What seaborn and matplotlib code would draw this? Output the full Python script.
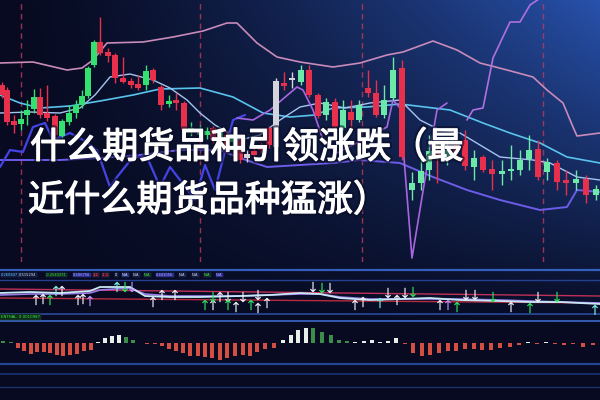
import numpy as np
import pandas as pd
import matplotlib
matplotlib.use('Agg')
import matplotlib.pyplot as plt
import matplotlib.patheffects as pe
import seaborn as sns

# 1. style / font
sns.set_style('dark')
plt.rcParams['font.family'] = ['Noto Sans CJK SC', 'DejaVu Sans']
plt.rcParams['axes.unicode_minus'] = False

# 2. data
title_lines = ['什么期货品种引领涨跌（最', '近什么期货品种猛涨）']

# candles (bar position, open, high, low, close)
candle_x = [2, 7, 14, 21, 27, 34, 40, 47, 55, 62, 69, 76, 82, 88, 94, 100, 108, 115, 123, 131,
            138, 146, 153, 161, 169, 176, 184, 191, 200, 207, 213, 220, 227, 233, 240, 247, 254, 261, 269, 276,
            284, 292, 301, 309, 318, 326, 335, 343, 351, 359, 368, 376, 384, 393, 402, 412, 421, 429, 437, 447,
            456, 465, 474, 483, 492, 502, 511, 520, 529, 538, 547, 557, 566, 576, 586, 596]
candle_open = [175, 170, 139, 136, 145, 151, 163, 147, 144, 124, 138, 147, 155, 164, 195, 218, 208, 205, 182, 179,
               176, 175, 190, 173, 156, 160, 157, 128, 125, 125, 132, 123, 125, 118, 120, 102, 109, 114, 132, 113,
               177, 180, 178, 190, 165, 145, 158, 132, 148, 140, 172, 167, 145, 162, 192, 70, 77, 90, 109, 100,
               115, 120, 93, 103, 91, 86, 89, 90, 101, 111, 88, 97, 80, 77, 81, 65]
candle_high = [178, 173, 145, 150, 160, 171, 172, 175, 146, 141, 155, 160, 170, 194, 220, 243, 212, 207, 203, 182,
               185, 195, 192, 175, 165, 167, 159, 138, 135, 133, 134, 132, 130, 127, 123, 110, 114, 118, 134, 182,
               188, 188, 195, 195, 167, 162, 162, 160, 160, 160, 190, 180, 175, 203, 200, 88, 105, 125, 120, 120,
               125, 130, 110, 105, 100, 100, 115, 110, 125, 120, 102, 100, 90, 90, 85, 75]
candle_low = [162, 135, 127, 130, 135, 147, 142, 139, 122, 122, 135, 142, 152, 162, 193, 205, 198, 177, 177, 172,
              170, 170, 177, 150, 153, 150, 125, 124, 122, 121, 117, 119, 107, 114, 97, 98, 102, 107, 112, 111,
              170, 172, 175, 163, 142, 140, 130, 130, 132, 138, 163, 143, 142, 160, 100, 60, 70, 80, 77, 95,
              100, 90, 80, 88, 70, 75, 80, 85, 90, 80, 80, 70, 65, 70, 57, 60]
candle_close = [165, 138, 135, 141, 150, 163, 145, 142, 125, 139, 147, 155, 164, 192, 218, 207, 204, 182, 178, 175,
                172, 189, 180, 155, 159, 157, 130, 132, 130, 129, 120, 128, 110, 122, 100, 106, 105, 110, 115, 179,
                174, 182, 190, 165, 144, 158, 133, 150, 140, 155, 167, 145, 160, 190, 103, 77, 89, 109, 103, 110,
                108, 94, 102, 90, 86, 89, 91, 100, 110, 83, 98, 78, 77, 81, 65, 71]
white_candles = [247, 276, 292]

# moving average / band lines (x, price)
upper_x = [0, 33, 67, 82, 93, 107, 143, 173, 203, 227, 237, 257, 277, 300, 333, 360, 387, 403, 433, 457,
           480, 507, 533, 547, 563, 573, 577, 600]
upper_y = [197, 198, 190, 192, 200, 217, 218, 223, 229, 237, 237, 217, 203, 198, 193, 197, 205, 208, 219, 210,
           197, 190, 183, 170, 157, 133, 124, 127]
mid_x = [0, 20, 40, 70, 100, 133, 160, 200, 233, 263, 290, 315, 333, 367, 400, 450, 483, 510, 540, 567, 600]
mid_y = [165, 157, 152, 154, 159, 165, 171, 172, 163, 147, 143, 145, 152, 153, 156, 150, 137, 127, 117, 103, 97]
fast_x = [0, 30, 60, 80, 95, 110, 130, 153, 170, 187, 200, 215, 240, 260, 280, 300, 320, 345, 370, 400,
          420, 440, 460, 480, 500, 533, 550, 577, 600]
fast_y = [147, 148, 147, 152, 165, 183, 186, 180, 172, 160, 147, 135, 120, 125, 140, 153, 157, 152, 157, 160,
          140, 130, 127, 115, 103, 100, 97, 83, 80]
lower_x = [0, 30, 60, 100, 140, 180, 220, 240, 267, 300, 333, 360, 400, 433, 467, 500, 540, 567, 577, 600]
lower_y = [100, 100, 100, 102, 105, 110, 110, 102, 93, 95, 97, 100, 97, 83, 70, 60, 50, 53, 70, 68]
zig_x = [0, 10, 23, 33, 45, 53, 70, 83, 97, 110, 117, 133, 147, 160, 170, 180, 195, 205, 215, 233, 245]
zig_y = [93, 110, 108, 133, 137, 120, 127, 120, 110, 73, 83, 103, 103, 73, 93, 80, 60, 95, 70, 140, 145]
spike_x = [237, 253, 270, 297, 303, 313, 323, 337, 357, 387, 393, 400, 412, 427, 437, 447]
spike_y = [142, 140, 150, 173, 170, 150, 120, 107, 117, 133, 160, 152, 2, 93, 150, 157]
spike2_x = [467, 473, 483, 493, 510, 520, 530, 545]
spike2_y = [140, 150, 152, 202, 238, 238, 255, 265]
session_breaks = [21, 200, 362, 543]

# indicator panel
ind_x = [0, 30, 60, 90, 100, 130, 145, 170, 200, 240, 270, 300, 320, 340, 370, 400, 430, 460, 500, 530, 560, 600]
ind_fast = [22, 23, 22, 24, 28, 28, 19, 18, 18, 19, 20, 22, 21, 17, 15, 16, 17, 15, 14, 13, 13, 11]
ind_slow = [20, 21, 21, 22, 25, 27, 21, 19, 19, 19, 20, 21, 21, 18, 16, 16, 16, 16, 15, 14, 13, 12]
ind_band_x = [0, 600]
ind_band_hi = [26, 19]
ind_band_lo = [17, 12]
arrow_x = [36, 43, 50, 56, 62, 78, 83, 90, 117, 125, 132, 153, 162, 175, 205, 213, 213, 220, 228, 228,
           236, 243, 251, 258, 258, 267, 313, 322, 330, 355, 363, 380, 388, 397, 405, 413, 440, 448, 457, 466,
           475, 493, 511, 530, 538, 557, 595]
arrow_y = [15, 16, 15, 24, 24, 15, 16, 14, 28, 28, 28, 13, 20, 20, 10, 10, 18, 18, 18, 10,
           8, 18, 10, 7, 20, 12, 28, 27, 27, 10, 13, 12, 22, 15, 22, 23, 10, 10, 8, 20,
           20, 18, 8, 7, 18, 18, 5]
arrow_dir = ['up', 'up', 'up', 'up', 'up', 'up', 'up', 'up', 'up', 'dn', 'dn', 'up', 'up', 'up', 'up', 'up', 'dn', 'up', 'dn', 'up',
             'up', 'dn', 'up', 'up', 'dn', 'up', 'dn', 'dn', 'dn', 'up', 'up', 'up', 'dn', 'up', 'dn', 'dn', 'up', 'up', 'up', 'dn',
             'dn', 'dn', 'up', 'up', 'dn', 'dn', 'up']
arrow_col = ['w', 'w', 'g', 'c', 'w', 'w', 'w', 'v', 'c', 'g', 'v', 'w', 'w', 'w', 'g', 'w', 'g', 'w', 'w', 'g',
             'w', 'w', 'g', 'w', 'w', 'w', 'w', 'g', 'w', 'w', 'w', 'c', 'w', 'w', 'w', 'g', 'w', 'v', 'g', 'w',
             'w', 'g', 'w', 'g', 'w', 'g', 'c']
header_labels = ['0.260847', '0.515294', '-0.2540291', '0.506756', '1.2', '-1.2', '0', 'N/A', 'N/A', 'N/A',
                 '0.441056', 'N/A', 'N/A', 'N/A', 'N/A']
header_pos = [1, 19, 46, 73, 93, 102, 115, 122, 133, 144, 156, 179, 192, 204, 216]
header_fg = ['#70c8ff', '#e0e0e0', '#40e040', '#b0b0ff', '#ff5a5a', '#ff5a5a', '#ffffff', '#e0e0ff', '#e0e0e0',
             '#50e050', '#b0b0ff', '#e0e0e0', '#e0e0e0', '#50e050', '#b8a8ff']
header_bg = ['#0c1638', '#0c1638', '#0c2a18', '#2a2a90', '#4a1020', '#4a1020', '#0c1638', '#1c2c70', '#0c1638',
             '#0c2a18', '#2a2a90', '#0c1638', '#0c1638', '#0c2a18', '#2a2a90']

# histogram panel
hist_x = [3, 11, 18, 24, 31, 37, 44, 50, 57, 63, 70, 77, 84, 91, 98, 105, 112, 119, 126, 133,
          147, 155, 162, 169, 176, 183, 190, 198, 205, 212, 220, 227, 235, 243, 250, 257, 265, 274, 283, 291,
          298, 306, 313, 322, 331, 339, 347, 355, 364, 372, 380, 388, 396, 405, 413, 422, 430, 439, 448, 456,
          465, 474, 482, 491, 500, 510, 519, 528, 537, 546, 555, 564, 573, 583, 593]
hist_val = [2, 1.5, -5, -8, -11, -9, -9, -10, -12, -13, -12, -11, -8, -7, 1, 5, 7, 8, 6, 3,
            -1, -1, -3, -6, -8, -10, -13, -13, -14, -15, -17, -15, -13, -12, -13, -9, -6, -5, 3, 8,
            13, 15, 15, 11, 8, 3, 2, 1, 2, 3, 0.8, 2, 5, -1, -10, -13, -12, -10, -8, -8,
            -6, -6, -7, -7, -5, -4, -2, 1, -1, 1, -1, -2, -1, -4, -2]
hist_kind = list('gg' + 'r' * 12 + 'wwww' + 'gg' + 'r' * 18 + 'wwww' + 'ggggg' + 'wwwwww' + 'r' * 14 + 'wrw' + 'r' * 5)

# 3. figure + background
fig = plt.figure(figsize=(6, 4), dpi=100)
bg = fig.add_axes([0, 0, 1, 1])
yy, xx = np.mgrid[0:400, 0:600]
w = (xx / 600) ** 1.4 * np.clip(1 - yy / 330, 0, 1)
dark = np.array([7, 10, 32]) / 255
bright = np.array([40, 82, 172]) / 255
bg.imshow(dark + w[..., None] * (bright - dark), aspect='auto', extent=[0, 1, 0, 1])
bg.set_axis_off()

ax = fig.add_axes([0, 1 - 262 / 400, 1, 262 / 400])
ax_ind = fig.add_axes([0, 1 - 315 / 400, 1, 53 / 400])
ax_h = fig.add_axes([0, 0, 1, 85 / 400])
for a in (ax, ax_ind, ax_h):
    a.set_facecolor('none')

# 4. main panel
for b in session_breaks:
    ax.axvline(b, color='#c03a5c', lw=1, ls=(0, (4, 3)), alpha=0.8)

sns.lineplot(x=upper_x, y=upper_y, ax=ax, color='#c88bba', lw=1.2, estimator=None, sort=False)
sns.lineplot(x=mid_x, y=mid_y, ax=ax, color='#58c4ee', lw=1.2, estimator=None, sort=False)
sns.lineplot(x=fast_x, y=fast_y, ax=ax, color='#a4c4f0', lw=1.0, estimator=None, sort=False)
sns.lineplot(x=lower_x, y=lower_y, ax=ax, color='#6c5ce8', lw=1.4, estimator=None, sort=False)
sns.lineplot(x=zig_x, y=zig_y, ax=ax, color='#4444e6', lw=1.6, estimator=None, sort=False)
sns.lineplot(x=spike_x, y=spike_y, ax=ax, color='#a866e0', lw=1.2, estimator=None, sort=False)
sns.lineplot(x=spike2_x, y=spike2_y, ax=ax, color='#b070e0', lw=1.2, estimator=None, sort=False)

df = pd.DataFrame({'x': candle_x, 'o': candle_open, 'h': candle_high, 'l': candle_low, 'c': candle_close})
df['col'] = np.where(df['c'] >= df['o'], '#33e070', '#e8304c')
df.loc[df['x'].isin(white_candles), 'col'] = '#d4d4dc'
df.loc[(df['x'] > 280) & (df['c'] >= df['o']) & ~df['x'].isin(white_candles), 'col'] = '#6ce8a8'
df['w'] = 5.0 + df['x'] / 300
ax.vlines(df['x'], df['l'], df['h'], colors=df['col'], lw=1, zorder=3)
ax.bar(df['x'], (df['c'] - df['o']).abs().clip(lower=1.5), bottom=df[['o', 'c']].min(axis=1),
       width=df['w'], color=df['col'], linewidth=0, zorder=4)
ax.set_xlim(0, 600)
ax.set_ylim(-2, 260)
ax.set_axis_off()

# 5. indicator panel
ax_ind.axhline(45, color='#3c6cd4', lw=1.6, alpha=0.85)
ax_ind.axhline(35, color='#24408e', lw=1.0)
ax_ind.axhline(1, color='#28489a', lw=2.0, alpha=0.9)
sns.lineplot(x=ind_band_x, y=ind_band_hi, ax=ax_ind, color='#c03058', lw=1.0, estimator=None)
sns.lineplot(x=ind_band_x, y=ind_band_lo, ax=ax_ind, color='#b82a40', lw=1.0, estimator=None)
sns.lineplot(x=ind_x, y=ind_slow, ax=ax_ind, color='#9a7ce8', lw=1.2, estimator=None)
sns.lineplot(x=ind_x, y=ind_fast, ax=ax_ind, color='#c8e8f4', lw=1.3, estimator=None)
arrows = pd.DataFrame({'x': arrow_x, 'y': arrow_y, 'dir': arrow_dir, 'col': arrow_col})
sns.scatterplot(data=arrows, x='x', y='y', hue='col', style='dir', ax=ax_ind,
                palette={'w': '#f0f0f8', 'g': '#30e060', 'c': '#80f0e0', 'v': '#c090ff'},
                markers={'up': r'$\uparrow$', 'dn': r'$\downarrow$'}, s=55, linewidth=0, legend=False, zorder=5)
for lab, px, fg, bgc in zip(header_labels, header_pos, header_fg, header_bg):
    ax_ind.text(px, 40, lab, fontsize=2.6, color=fg, family='DejaVu Sans', va='center', ha='left',
                bbox=dict(boxstyle='square,pad=0.12', fc=bgc, ec='#2c3c80', lw=0.3))
ax_ind.set_xlim(0, 600)
ax_ind.set_ylim(0, 53)
ax_ind.set_axis_off()

# 6. histogram panel
ax_h.axhline(22, color='#3e6ccc', lw=1.3, alpha=0.9)
ax_h.axhline(-21, color='#2a56b4', lw=1.6, alpha=0.8)
ax_h.axhline(-31, color='#1e3c88', lw=1.2, alpha=0.8)
ax_h.axhline(-44, color='#2e64b8', lw=0.9, alpha=0.5)
sns.barplot(x=hist_x, y=hist_val, hue=hist_kind, ax=ax_h, native_scale=True, dodge=False, width=0.8,
            palette={'r': '#ec3a2a', 'g': '#2c9c40', 'w': '#e6f0ea'}, legend=False, zorder=3,
            linewidth=0, edgecolor='none')
ax_h.text(1, 26, 'ENTHAL: 0.0010987', fontsize=2.8, color='#40f040', family='DejaVu Sans', va='center',
          bbox=dict(boxstyle='square,pad=0.15', fc='#0c2a18', ec='#2c4c40', lw=0.3))
ax_h.set_xlim(0, 600)
ax_h.set_ylim(-57, 28)
ax_h.set_axis_off()

# 7. title overlay
shadow = [pe.Stroke(linewidth=4, foreground='#0a0c26', alpha=0.6),
          pe.Stroke(linewidth=0.9, foreground='white'), pe.Normal()]
fig.text(30 / 600, 1 - 148 / 400, title_lines[0], fontsize=26, color='white', va='center', ha='left',
         path_effects=shadow)
fig.text(28 / 600, 1 - 201 / 400, title_lines[1], fontsize=26, color='white', va='center', ha='left',
         path_effects=shadow)

fig.savefig('out.png', dpi=100)
